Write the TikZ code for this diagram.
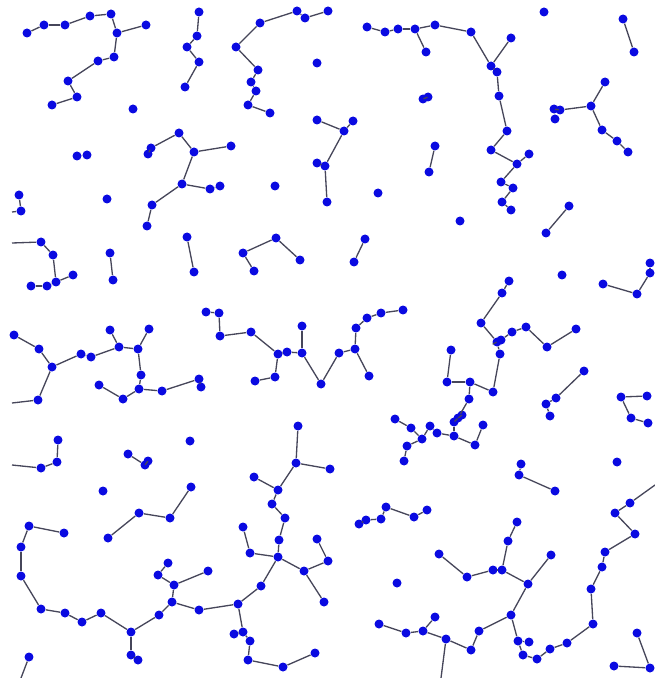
\documentclass[tikz,border=0pt]{standalone}
\definecolor{dotblue}{RGB}{10,10,225}
\definecolor{linkgray}{RGB}{70,70,90}
\begin{document}
\begin{tikzpicture}
  [x=0.02cm, y=-0.02cm,
  site/.style={circle, fill=dotblue, inner sep=0pt, minimum size=0.18cm},
  link/.style={draw=linkgray, line width=0.75pt}]
  \useasboundingbox (0,0) rectangle (654,678);
  % lone sites and pairs
  \foreach \nd/\x/\y in {i1/133/109, i2/107/199, i3/275/186, i4/317/63, i5/378/193,
    i6/460/221, i7/544/12, i8/562/275, i9/190/441, i10/103/491, i11/397/583, i12/617/462,
    p1/77/156, p2/87/155, p3/423/99, p4/428/97, h1/435/146, h2/429/172,
    k9/623/19, k10/634/52, l1/569/206, l2/546/233, m7/110/253, m8/113/280,
    q1/187/237, q2/194/272, s1/365/239, s2/354/262, b1/19/195, b2/21/211, o42/29/657}
    \node[site] (\nd) at (\x,\y) {};
  % upper half
  \foreach \nd/\x/\y in {a1/27/33, a2/44/25, a3/65/25, a4/90/16, a5/111/14, a6/117/33,
    a7/146/25, a8/114/57, a9/98/61, a10/68/81, a11/77/97, a12/52/105,
    c1/199/12, c2/197/36, c3/187/47, c4/199/62, c5/185/87,
    d1/236/47, d2/260/23, d3/297/11, d4/305/18, d5/328/11, d6/258/70, d7/251/82,
    d8/256/91, d9/248/105, d10/270/113,
    e1/317/120, e2/344/131, e3/353/121, e4/325/166, e5/317/163, e6/327/202,
    f1/179/133, f2/194/152, f3/231/146, f4/182/184, f5/210/189, f6/220/186,
    f7/151/148, f8/148/154, f9/152/205, f10/147/226,
    g1/367/27, g2/385/32, g3/398/29, g4/415/29, g5/435/25, g6/471/32, g7/426/52,
    g8/491/66, g9/497/72, g10/511/38, g11/499/96, g12/507/131, g13/491/150,
    g14/517/164, g15/529/154, g16/501/182, g17/513/188, g18/502/202, g19/511/210,
    k1/554/109, k2/560/110, k3/555/119, k4/591/106, k5/605/82, k6/602/130,
    k7/617/141, k8/628/152,
    m1/41/242, m2/53/255, m3/56/282, m4/73/275, m5/47/286, m6/31/286,
    r1/254/271, r2/243/253, r3/276/238, r4/300/260,
    x1/603/284, x2/637/294, x3/650/273, x4/650/263}
    \node[site] (\nd) at (\x,\y) {};
  % middle band
  \foreach \nd/\x/\y in {n1/14/335, n2/39/349, n3/52/367, n4/81/354, n5/91/357,
    n6/119/347, n7/110/330, n8/138/349, n9/149/329, n10/141/375, n11/139/389,
    n12/162/391, n13/123/399, n14/99/385, n15/38/400, n16/199/379, n17/201/387,
    t1/206/312, t2/219/313, t3/220/336, t4/251/332, t5/278/354, t6/287/352,
    t7/302/353, t8/302/326, t9/321/384, t10/275/377, t11/255/381, t12/339/353,
    t13/355/349, t14/356/328, t15/367/318, t16/381/313, t17/403/310, t18/369/376,
    u1/509/281, u2/502/293, u3/481/323, u4/497/342, u5/501/340, u6/512/332,
    u7/526/327, u8/547/347, u9/576/329, u10/500/354, u11/493/392, u12/470/382,
    u13/447/382, u14/451/350, u15/469/399, u16/458/418, u17/462/415, u18/454/422,
    u19/483/425, u20/475/445, u21/454/436, u22/437/433, u23/430/426, u24/422/439,
    u25/411/428, u26/395/419, u27/407/446, u28/404/461,
    v1/584/371, v2/556/398, v3/546/404, v4/550/416,
    w1/647/396, w2/621/397, w3/631/418, w4/648/423}
    \node[site] (\nd) at (\x,\y) {};
  % lower half
  \foreach \nd/\x/\y in {y1/41/468, y2/57/462, y3/58/440, y4/128/454, y5/145/465,
    y6/148/461, z1/108/538, z2/139/513, z3/170/518, z4/191/487,
    o1/64/533, o2/29/526, o3/21/547, o4/21/576, o5/41/609, o6/65/613, o7/82/622,
    o8/101/613, o9/131/632, o10/131/655, o11/138/660, o12/159/615, o13/172/602,
    o14/174/585, o15/158/575, o16/168/563, o17/208/571, o18/199/610, o19/238/604,
    o20/261/586, o21/278/557, o22/250/553, o23/243/527, o24/304/571, o25/328/561,
    o26/317/539, o27/324/602, o28/279/540, o29/285/518, o30/272/504, o31/278/490,
    o32/254/477, o33/296/463, o34/330/469, o35/298/426, o36/243/632, o37/234/634,
    o38/250/641, o39/248/660, o40/283/667, o41/315/653,
    aa1/359/524, aa2/366/520, aa3/381/519, aa4/386/507, aa5/414/517, aa6/427/510,
    bb1/439/554, bb2/467/577, bb3/493/570, bb4/502/570, bb5/517/522, bb6/508/541,
    bb7/528/584, bb8/551/555, bb9/511/615, bb10/479/631, bb11/471/650, bb12/446/639,
    bb13/423/631, bb14/406/633, bb15/379/624, bb16/435/617, bb17/518/641,
    bb18/529/642, bb19/523/655, bb20/537/659, bb21/550/649, bb22/567/643,
    bb23/593/624, bb24/591/589, bb25/602/567, bb26/605/552, bb27/635/534,
    bb28/615/513, bb29/630/503,
    cc1/521/464, cc2/519/475, cc3/555/491, dd1/637/633, dd2/650/668, dd3/614/666}
    \node[site] (\nd) at (\x,\y) {};
  % ends cut by the frame
  \foreach \nd/\x/\y in {eb/12/212, em/12/243, en/12/403, ey/12/465, eo/21/678,
    ebb1/655/485, ebb2/441/678}
    \coordinate (\nd) at (\x,\y);
  % links
  \foreach \u/\v in {p1/p2, p3/p4, h1/h2, k9/k10, l1/l2, m7/m8, q1/q2, s1/s2,
    b1/b2, b2/eb, o42/eo,
    a1/a2, a2/a3, a3/a4, a4/a5, a5/a6, a6/a7, a6/a8, a8/a9, a9/a10, a10/a11, a11/a12,
    c1/c2, c2/c3, c3/c4, c4/c5,
    d5/d4, d4/d3, d3/d2, d2/d1, d1/d6, d6/d7, d7/d8, d8/d9, d9/d10,
    e1/e2, e2/e3, e2/e4, e4/e5, e4/e6,
    f7/f1, f7/f8, f1/f2, f2/f3, f2/f4, f4/f5, f5/f6, f4/f9, f9/f10,
    g1/g2, g2/g3, g3/g4, g4/g5, g5/g6, g4/g7, g6/g8, g8/g10, g8/g9, g9/g11,
    g11/g12, g12/g13, g13/g14, g14/g15, g14/g16, g16/g17, g17/g18, g18/g19,
    k1/k2, k1/k3, k2/k4, k4/k5, k4/k6, k6/k7, k7/k8,
    em/m1, m1/m2, m2/m3, m3/m4, m3/m5, m5/m6,
    r1/r2, r2/r3, r3/r4, x1/x2, x2/x3, x3/x4}
    \draw[link] (\u) -- (\v);
  \foreach \u/\v in {n1/n2, n2/n3, n3/n4, n4/n5, n5/n6, n6/n7, n6/n8, n8/n9,
    n8/n10, n10/n11, n11/n12, n11/n13, n13/n14, n3/n15, n15/en, n12/n16, n16/n17,
    t1/t2, t2/t3, t3/t4, t4/t5, t5/t6, t6/t7, t7/t8, t7/t9, t5/t10, t10/t11,
    t9/t12, t12/t13, t13/t14, t14/t15, t15/t16, t16/t17, t13/t18,
    u1/u2, u2/u3, u3/u4, u4/u5, u5/u6, u6/u7, u7/u8, u8/u9, u4/u10, u10/u11,
    u11/u12, u12/u13, u13/u14, u12/u15, u15/u16, u16/u17, u16/u18, u18/u21,
    u21/u20, u20/u19, u21/u22, u22/u23, u23/u24, u24/u25, u25/u26, u24/u27, u27/u28,
    v1/v2, v2/v3, v3/v4, w1/w2, w2/w3, w3/w4}
    \draw[link] (\u) -- (\v);
  \foreach \u/\v in {ey/y1, y1/y2, y2/y3, y4/y5, y5/y6, z1/z2, z2/z3, z3/z4,
    o1/o2, o2/o3, o3/o4, o4/o5, o5/o6, o6/o7, o7/o8, o8/o9, o9/o10, o10/o11,
    o9/o12, o12/o13, o13/o14, o14/o15, o15/o16, o14/o17, o13/o18, o18/o19,
    o19/o20, o20/o21, o21/o22, o22/o23, o21/o24, o24/o25, o25/o26, o24/o27,
    o21/o28, o28/o29, o29/o30, o30/o31, o31/o32, o31/o33, o33/o34, o33/o35,
    o19/o36, o36/o37, o36/o38, o38/o39, o39/o40, o40/o41,
    aa1/aa2, aa2/aa3, aa3/aa4, aa4/aa5, aa5/aa6,
    bb1/bb2, bb2/bb3, bb3/bb4, bb4/bb6, bb6/bb5, bb4/bb7, bb7/bb8, bb7/bb9,
    bb9/bb10, bb10/bb11, bb11/bb12, bb12/bb13, bb13/bb14, bb14/bb15, bb13/bb16,
    bb12/ebb2, bb9/bb17, bb17/bb18, bb17/bb19, bb19/bb20, bb20/bb21, bb21/bb22,
    bb22/bb23, bb23/bb24, bb24/bb25, bb25/bb26, bb26/bb27, bb27/bb28, bb28/bb29,
    bb29/ebb1, cc1/cc2, cc2/cc3, dd1/dd2, dd3/dd2}
    \draw[link] (\u) -- (\v);
\end{tikzpicture}
\end{document}
